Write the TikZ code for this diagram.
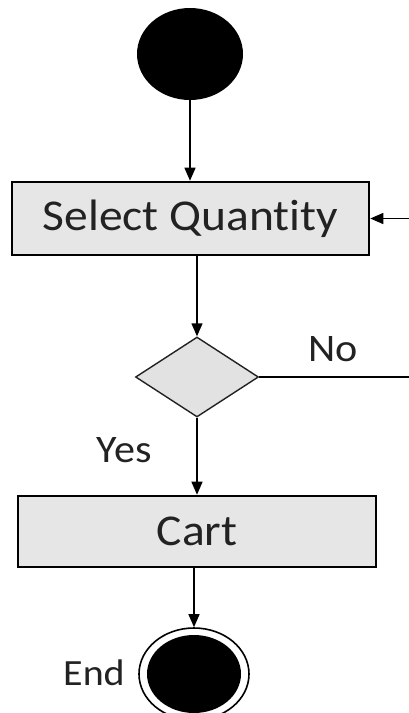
\documentclass[tikz,border=0pt]{standalone}
\usepackage{fontspec}
\setmainfont{Carlito}[Ligatures=NoCommon,FakeStretch=1.08]
\usetikzlibrary{shapes.geometric,arrows.meta,calc}
\definecolor{boxfill}{HTML}{E6E6E6}
\definecolor{diafill}{HTML}{E2E2E2}
\definecolor{ink}{HTML}{222222}
\tikzset{
  actbox/.style={draw=black,line width=2.6pt,fill=boxfill,inner sep=0pt,text=ink,font=\fontsize{44}{52}\selectfont},
  decision/.style={diamond,draw=ink,line width=1.4pt,fill=diafill,inner sep=0pt,minimum width=123pt,minimum height=80pt,aspect=1.54},
  arr/.style={draw=black,line width=1.4pt,-{Triangle[width=11pt,length=13pt]}},
  plain/.style={draw=black,line width=1.4pt},
  lbl/.style={text=ink,inner sep=0pt}
}
\begin{document}
\begin{tikzpicture}[x=1pt,y=-1pt]
\useasboundingbox[fill=white] (0,0) rectangle (409,713);
\node[ellipse,fill=black,minimum width=106pt,minimum height=92pt,inner sep=0pt] (start) at (190,54) {};
\node[actbox,minimum width=357pt,minimum height=73pt] (sel) at (190.5,218.5) {Select Quantity};
\node[decision] (dec) at (197,377) {};
\node[actbox,minimum width=358pt,minimum height=71pt] (cart) at (197,531.5) {Cart};
\node[ellipse,draw=black,line width=1.6pt,fill=white,minimum width=110pt,minimum height=92pt,inner sep=0pt] (endo) at (194,674) {};
\node[ellipse,fill=black,minimum width=94pt,minimum height=78pt,inner sep=0pt] (endi) at (194,674) {};
\coordinate (loopin) at (409,218.5);
\coordinate (noout) at (409,377);
\node[lbl,font=\fontsize{39}{46}\selectfont] (no) at (333,349) {No};
\node[lbl,font=\fontsize{39}{46}\selectfont] (yes) at (124,450) {Yes};
\node[lbl,font=\fontsize{37}{44}\selectfont] (endl) at (94,673) {End};
\draw[arr] (start.south) -- (sel.north -| start.south);
\draw[arr] (sel.south -| dec.north) -- (dec.north);
\draw[plain] (dec.east) -- (noout);
\draw[arr] (loopin) -- (sel.east);
\draw[arr] (dec.south) -- (cart.north -| dec.south);
\draw[arr] (cart.south -| endo.north) -- (endo.north);
\end{tikzpicture}
\end{document}
